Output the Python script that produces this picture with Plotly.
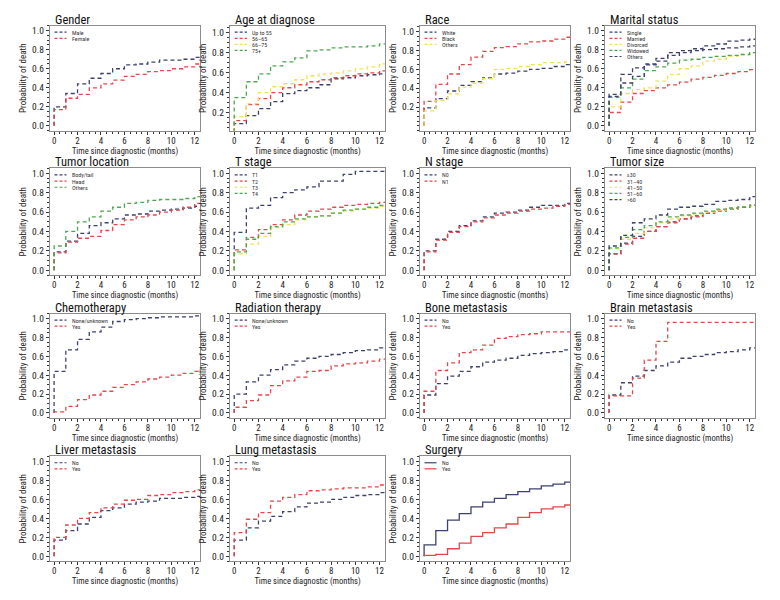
import plotly.graph_objects as go

# months since diagnosis (step times)
months = list(range(13))

# ---- Gender
male = [0.20, 0.34, 0.44, 0.50, 0.55, 0.60, 0.64, 0.65, 0.67, 0.69, 0.69, 0.70, 0.72]
female = [0.17, 0.29, 0.33, 0.40, 0.44, 0.48, 0.52, 0.54, 0.57, 0.58, 0.60, 0.62, 0.65]

# ---- Age at diagnose
age_up55 = [0.09, 0.17, 0.24, 0.31, 0.39, 0.42, 0.45, 0.48, 0.54, 0.55, 0.57, 0.58, 0.59]
age_56_65 = [0.12, 0.28, 0.34, 0.40, 0.45, 0.48, 0.51, 0.53, 0.55, 0.57, 0.59, 0.60, 0.62]
age_66_75 = [0.16, 0.29, 0.40, 0.46, 0.49, 0.53, 0.57, 0.59, 0.60, 0.62, 0.64, 0.66, 0.69]
age_75p = [0.35, 0.51, 0.59, 0.67, 0.71, 0.75, 0.82, 0.83, 0.85, 0.86, 0.86, 0.87, 0.89]

# ---- Race
race_white = [0.19, 0.29, 0.37, 0.43, 0.47, 0.51, 0.55, 0.56, 0.58, 0.60, 0.61, 0.63, 0.65]
race_black = [0.26, 0.44, 0.55, 0.65, 0.73, 0.79, 0.83, 0.84, 0.87, 0.89, 0.90, 0.92, 0.94]
race_others = [0.16, 0.27, 0.34, 0.41, 0.45, 0.50, 0.60, 0.61, 0.63, 0.65, 0.67, 0.67, 0.68]

# ---- Marital status
mar_single = [0.33, 0.54, 0.61, 0.65, 0.71, 0.77, 0.79, 0.81, 0.84, 0.86, 0.89, 0.90, 0.91]
mar_married = [0.14, 0.25, 0.34, 0.37, 0.40, 0.43, 0.46, 0.49, 0.51, 0.53, 0.55, 0.57, 0.59]
mar_divorced = [0.20, 0.34, 0.38, 0.40, 0.47, 0.54, 0.60, 0.63, 0.68, 0.70, 0.73, 0.75, 0.77]
mar_widowed = [0.30, 0.40, 0.49, 0.58, 0.62, 0.66, 0.69, 0.70, 0.72, 0.73, 0.74, 0.75, 0.77]
mar_others = [0.31, 0.45, 0.52, 0.64, 0.68, 0.74, 0.77, 0.79, 0.80, 0.81, 0.82, 0.83, 0.84]

# ---- Tumor location
loc_body = [0.19, 0.30, 0.38, 0.46, 0.49, 0.53, 0.57, 0.58, 0.61, 0.62, 0.63, 0.64, 0.66]
loc_head = [0.18, 0.29, 0.33, 0.35, 0.41, 0.47, 0.52, 0.55, 0.57, 0.60, 0.62, 0.65, 0.69]
loc_others = [0.25, 0.40, 0.50, 0.55, 0.61, 0.65, 0.69, 0.70, 0.72, 0.73, 0.73, 0.74, 0.76]

# ---- T stage
t1 = [0.39, 0.64, 0.67, 0.75, 0.80, 0.83, 0.86, 0.92, 0.92, 0.99, 1.02, 1.02, 1.02]
t2 = [0.21, 0.34, 0.42, 0.47, 0.52, 0.57, 0.61, 0.63, 0.65, 0.67, 0.68, 0.69, 0.70]
t3 = [0.17, 0.27, 0.35, 0.44, 0.47, 0.52, 0.55, 0.56, 0.59, 0.61, 0.63, 0.64, 0.66]
t4 = [0.19, 0.32, 0.38, 0.45, 0.50, 0.53, 0.55, 0.56, 0.59, 0.62, 0.63, 0.65, 0.67]

# ---- N stage
n0 = [0.20, 0.32, 0.40, 0.46, 0.51, 0.55, 0.59, 0.60, 0.62, 0.65, 0.67, 0.67, 0.69]
n1 = [0.19, 0.31, 0.39, 0.45, 0.50, 0.54, 0.57, 0.59, 0.61, 0.63, 0.64, 0.66, 0.68]

# ---- Tumor size
size_le30 = [0.17, 0.28, 0.35, 0.40, 0.45, 0.50, 0.53, 0.56, 0.59, 0.62, 0.64, 0.65, 0.67]
size_31_40 = [0.17, 0.27, 0.33, 0.40, 0.45, 0.49, 0.53, 0.55, 0.59, 0.61, 0.63, 0.65, 0.67]
size_41_50 = [0.22, 0.32, 0.38, 0.44, 0.49, 0.53, 0.56, 0.58, 0.60, 0.62, 0.64, 0.65, 0.66]
size_51_60 = [0.23, 0.34, 0.42, 0.46, 0.50, 0.55, 0.57, 0.59, 0.61, 0.63, 0.64, 0.65, 0.67]
size_gt60 = [0.25, 0.36, 0.49, 0.53, 0.57, 0.63, 0.65, 0.66, 0.68, 0.71, 0.72, 0.73, 0.76]

# ---- Chemotherapy
chemo_none = [0.44, 0.67, 0.78, 0.86, 0.91, 0.97, 0.99, 1.00, 1.01, 1.02, 1.02, 1.02, 1.03]
chemo_yes = [0.01, 0.07, 0.14, 0.19, 0.23, 0.27, 0.30, 0.33, 0.36, 0.38, 0.40, 0.42, 0.44]

# ---- Radiation therapy
rad_none = [0.20, 0.33, 0.40, 0.46, 0.51, 0.55, 0.58, 0.60, 0.62, 0.64, 0.66, 0.67, 0.69]
rad_yes = [0.06, 0.13, 0.19, 0.29, 0.34, 0.38, 0.44, 0.45, 0.50, 0.52, 0.53, 0.55, 0.57]

# ---- Bone metastasis
bone_no = [0.19, 0.31, 0.39, 0.44, 0.49, 0.54, 0.56, 0.58, 0.61, 0.63, 0.64, 0.65, 0.67]
bone_yes = [0.23, 0.45, 0.53, 0.64, 0.67, 0.72, 0.79, 0.81, 0.83, 0.84, 0.86, 0.86, 0.86]

# ---- Brain metastasis
brain_no = [0.19, 0.32, 0.39, 0.45, 0.50, 0.54, 0.58, 0.60, 0.62, 0.64, 0.65, 0.67, 0.69]
brain_yes = [0.18, 0.18, 0.37, 0.56, 0.76, 0.96, 0.96, 0.96, 0.96, 0.96, 0.96, 0.96, 0.96]

# ---- Liver metastasis
liver_no = [0.17, 0.27, 0.34, 0.41, 0.48, 0.51, 0.55, 0.57, 0.58, 0.61, 0.61, 0.62, 0.63]
liver_yes = [0.20, 0.33, 0.40, 0.46, 0.51, 0.55, 0.59, 0.60, 0.64, 0.65, 0.67, 0.68, 0.70]

# ---- Lung metastasis
lung_no = [0.17, 0.30, 0.37, 0.42, 0.47, 0.52, 0.56, 0.57, 0.60, 0.62, 0.64, 0.65, 0.67]
lung_yes = [0.25, 0.39, 0.46, 0.58, 0.62, 0.65, 0.69, 0.70, 0.71, 0.72, 0.72, 0.73, 0.75]

# ---- Surgery
surg_no = [0.12, 0.27, 0.38, 0.45, 0.52, 0.57, 0.61, 0.65, 0.68, 0.71, 0.74, 0.76, 0.78]
surg_yes = [0.01, 0.02, 0.08, 0.14, 0.21, 0.25, 0.30, 0.34, 0.41, 0.46, 0.50, 0.52, 0.54]

NAVY = "#3d4170"
RED = "#e2474a"
YEL = "#ece35a"
GRN = "#4da851"
FONT = "Roboto Condensed, Liberation Sans, sans-serif"

panels = [
    ("Gender", [("Male", male, NAVY), ("Female", female, RED)]),
    ("Age at diagnose", [("Up to 55", age_up55, NAVY), ("56\u201365", age_56_65, RED),
                         ("66\u201375", age_66_75, YEL), ("75+", age_75p, GRN)]),
    ("Race", [("White", race_white, NAVY), ("Black", race_black, RED), ("Others", race_others, YEL)]),
    ("Marital status", [("Single", mar_single, NAVY), ("Married", mar_married, RED),
                        ("Divorced", mar_divorced, YEL), ("Widowed", mar_widowed, GRN),
                        ("Others", mar_others, NAVY)]),
    ("Tumor location", [("Body/tail", loc_body, NAVY), ("Head", loc_head, RED), ("Others", loc_others, GRN)]),
    ("T stage", [("T1", t1, NAVY), ("T2", t2, RED), ("T3", t3, YEL), ("T4", t4, GRN)]),
    ("N stage", [("N0", n0, NAVY), ("N1", n1, RED)]),
    ("Tumor size", [("\u226430", size_le30, NAVY), ("31\u201340", size_31_40, RED),
                    ("41\u201350", size_41_50, YEL), ("51\u201360", size_51_60, GRN),
                    (">60", size_gt60, NAVY)]),
    ("Chemotherapy", [("None/unknown", chemo_none, NAVY), ("Yes", chemo_yes, RED)]),
    ("Radiation therapy", [("None/unknown", rad_none, NAVY), ("Yes", rad_yes, RED)]),
    ("Bone metastasis", [("No", bone_no, NAVY), ("Yes", bone_yes, RED)]),
    ("Brain metastasis", [("No", brain_no, NAVY), ("Yes", brain_yes, RED)]),
    ("Liver metastasis", [("No", liver_no, NAVY), ("Yes", liver_yes, RED)]),
    ("Lung metastasis", [("No", lung_no, NAVY), ("Yes", lung_yes, RED)]),
    ("Surgery", [("No", surg_no, NAVY), ("Yes", surg_yes, RED)]),
]

# page offset of the plot div (body margin)
OFF = 8
W, H = 780 - OFF, 600 - OFF
# panel boxes in page pixels: columns (left, right), rows (top, bottom)
cols = [(50, 200), (230, 385), (420, 570), (605, 755)]
rows = [(25, 130), (168, 275), (314, 418), (457, 562)]

fig = go.Figure()
annotations = []
shapes = []

for i, (title, series) in enumerate(panels):
    n = i + 1
    r, c = divmod(i, 4)
    xs = "x" if n == 1 else f"x{n}"
    ys = "y" if n == 1 else f"y{n}"
    solid = title == "Surgery"
    for lab, vals, col in series:
        fig.add_trace(go.Scatter(
            x=[0] + months + [12.6], y=[0] + vals + [vals[-1]],
            mode="lines", line=dict(shape="hv", color=col, width=1.3,
                                    dash="solid" if solid else "4px,3px"),
            xaxis=xs, yaxis=ys, showlegend=False, name=lab))
    yr = [-0.05, 1.05]
    tv = [0, 0.2, 0.4, 0.6, 0.8, 1.0]
    if title == "Age at diagnose":
        yr = [0.02, 1.07]
        tv = tv[1:]
    elif title == "Race":
        yr = [-0.05, 1.06]
        tv = tv[1:]
    l, rr = [v - OFF for v in cols[c]]
    t, b = [v - OFF for v in rows[r]]
    xk = "xaxis" if n == 1 else f"xaxis{n}"
    yk = "yaxis" if n == 1 else f"yaxis{n}"
    fig.update_layout(**{
        xk: dict(domain=[l / W, rr / W], anchor=ys, range=[-0.35, 12.45],
                 tickvals=[0, 2, 4, 6, 8, 10, 12], ticks="outside", ticklen=3,
                 ticklabelstandoff=-2,
                 tickcolor="#333", minor=dict(dtick=0.5, ticks="outside", ticklen=2, tickcolor="#333"),
                 showline=True, linecolor="#8c8c8c", linewidth=1.4, mirror=True,
                 showgrid=False, zeroline=False, tickfont=dict(size=9, color="#222"),
                 title=dict(text="Time since diagnostic (months)", standoff=0,
                            font=dict(size=8.5, color="#222"))),
        yk: dict(domain=[1 - b / H, 1 - t / H], anchor=xs, range=yr,
                 tickvals=tv, tickformat=".1f", ticks="outside", ticklen=3,
                 tickcolor="#333", minor=dict(dtick=0.05, ticks="outside", ticklen=2, tickcolor="#333"),
                 showline=True, linecolor="#8c8c8c", linewidth=1.4, mirror=True,
                 showgrid=False, zeroline=False, tickfont=dict(size=9.5, color="#222"),
                 title=dict(text="Probability of death", standoff=3,
                            font=dict(size=9, color="#222"))),
    })
    annotations.append(dict(text=title, xref=f"{xs} domain", yref=f"{ys} domain",
                            x=0.02, y=1.0, xanchor="left", yanchor="bottom", showarrow=False,
                            yshift=-3, font=dict(size=12.5, color="#111", family=FONT)))
    for j, (lab, vals, col) in enumerate(series):
        yy = 0.94 - j * 0.058
        shapes.append(dict(type="line", xref=f"{xs} domain", yref=f"{ys} domain",
                           x0=0.03, x1=0.11, y0=yy, y1=yy,
                           line=dict(color=col, width=1.2, dash="solid" if solid else "3px,2px")))
        annotations.append(dict(text=lab, xref=f"{xs} domain", yref=f"{ys} domain",
                                x=0.13, y=yy, xanchor="left", yanchor="middle", showarrow=False,
                                font=dict(size=6, color="#333", family=FONT)))

fig.update_layout(
    width=W, height=H, margin=dict(l=0, r=0, t=0, b=0),
    paper_bgcolor="white", plot_bgcolor="white",
    font=dict(family=FONT, color="#222"),
    annotations=annotations, shapes=shapes, showlegend=False,
)

fig.write_html("out.html")
